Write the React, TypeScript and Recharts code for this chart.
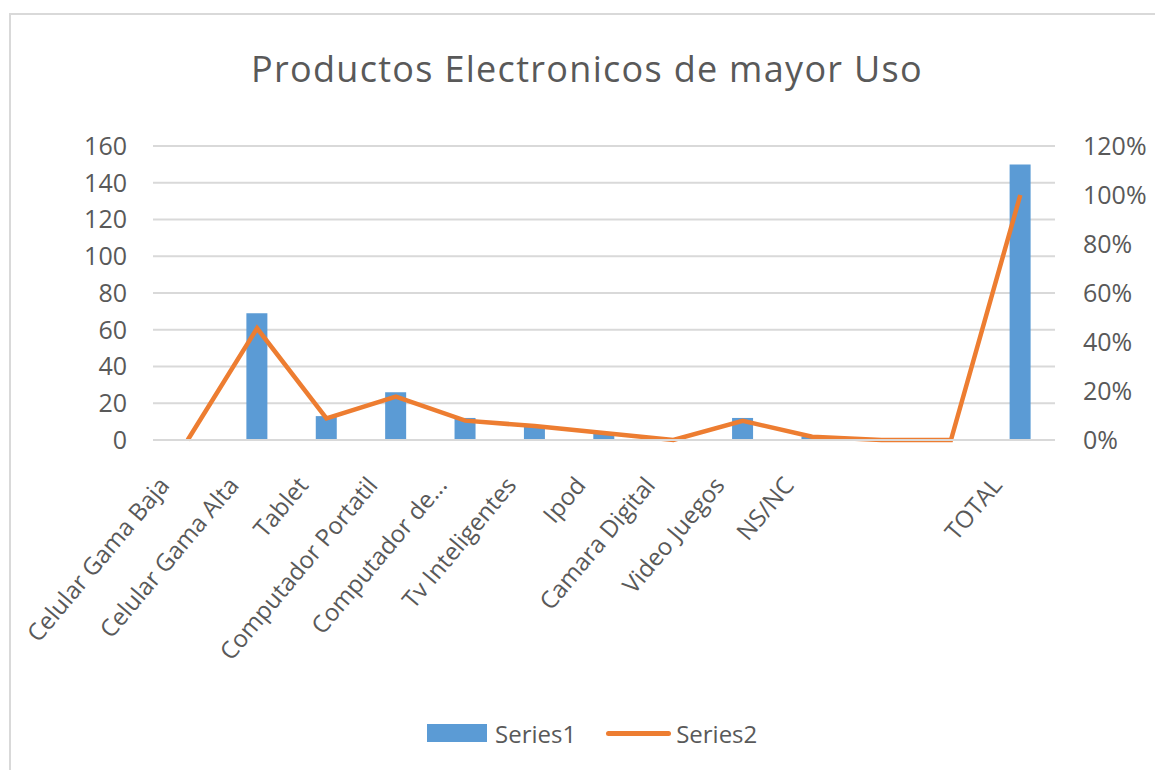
import React from 'react';
import { ComposedChart, Bar, Line, XAxis, YAxis, CartesianGrid, Legend } from 'recharts';

const categories = [
  'Celular Gama Baja',
  'Celular Gama Alta',
  'Tablet',
  'Computador Portatil',
  'Computador de...',
  'Tv Inteligentes',
  'Ipod',
  'Camara Digital',
  'Video Juegos',
  'NS/NC',
  '',
  '',
  'TOTAL',
];
const series1 = [0, 69, 13, 26, 12, 8, 4, 0, 12, 2, 0, 0, 150];
const series2 = [0, 0.456, 0.088, 0.177, 0.079, 0.057, 0.029, 0, 0.078, 0.013, 0, 0, 1.0];
const leftTicks = [0, 20, 40, 60, 80, 100, 120, 140, 160];
const rightTicks = [0, 0.2, 0.4, 0.6, 0.8, 1.0, 1.2];

const data = categories.map((name, i) => ({ name, s1: series1[i], s2: series2[i] }));

const FONT = '"Open Sans", sans-serif';
const GREY = '#595959';
const BLUE = '#5B9BD5';
const ORANGE = '#ED7D31';

const CategoryTick = (props: any) => {
  const { x, y, payload } = props;
  const ax = x - 17;
  const ay = y + 38;
  return (
    <text
      x={ax}
      y={ay}
      transform={`rotate(-50, ${ax}, ${ay})`}
      textAnchor="end"
      fill={GREY}
      fontSize={24}
      fontFamily={FONT}
    >
      {payload.value}
    </text>
  );
};

const renderLegend = () => (
  <div
    style={{
      display: 'flex',
      alignItems: 'center',
      height: 40,
      paddingLeft: 419,
      fontFamily: FONT,
      fontSize: 24,
      color: GREY,
    }}
  >
    <span style={{ display: 'inline-block', width: 60, height: 18, background: BLUE, marginRight: 8 }} />
    <span>Series1</span>
    <span
      style={{ display: 'inline-block', width: 65, height: 5, borderRadius: 3, background: ORANGE, marginLeft: 30, marginRight: 5 }}
    />
    <span>Series2</span>
  </div>
);

export default function App() {
  return (
    <div style={{ position: 'relative', width: 1147, height: 762, overflow: 'hidden', background: '#fff' }}>
      <div
        style={{
          position: 'absolute',
          left: 1,
          top: 5,
          width: 1300,
          height: 900,
          border: '2px solid #d9d9d9',
        }}
      />
      <div
        style={{
          position: 'absolute',
          left: 579,
          top: 36,
          transform: 'translateX(-50%)',
          whiteSpace: 'nowrap',
          fontFamily: FONT,
          fontSize: 36,
          letterSpacing: 1.3,
          color: GREY,
        }}
      >
        Productos Electronicos de mayor Uso
      </div>
      <div style={{ position: 'absolute', left: 0, top: 0 }}>
        <ComposedChart width={1147} height={762} data={data} margin={{ top: 138, right: 0, left: 0, bottom: 17 }}>
          <CartesianGrid vertical={false} stroke="#d9d9d9" strokeWidth={2} yAxisId="left" />
          <XAxis
            dataKey="name"
            height={273}
            interval={0}
            tickLine={false}
            axisLine={{ stroke: '#d9d9d9', strokeWidth: 2 }}
            tick={<CategoryTick />}
          />
          <YAxis
            yAxisId="left"
            width={145}
            domain={[0, 160]}
            ticks={leftTicks}
            axisLine={false}
            tickLine={false}
            tickMargin={20}
            tick={{ fill: GREY, fontSize: 25, fontFamily: FONT }}
          />
          <YAxis
            yAxisId="right"
            orientation="right"
            width={100}
            domain={[0, 1.2]}
            ticks={rightTicks}
            axisLine={false}
            tickLine={false}
            tickMargin={22}
            tickFormatter={(v: number) => `${Math.round(v * 100)}%`}
            tick={{ fill: GREY, fontSize: 25, fontFamily: FONT, textAnchor: 'start' }}
          />
          <Bar yAxisId="left" dataKey="s1" name="Series1" fill={BLUE} barSize={21} isAnimationActive={false} />
          <Line
            yAxisId="right"
            type="linear"
            dataKey="s2"
            name="Series2"
            stroke={ORANGE}
            strokeWidth={4.5}
            dot={false}
            isAnimationActive={false}
          />
          <Legend verticalAlign="bottom" content={renderLegend} />
        </ComposedChart>
      </div>
    </div>
  );
}
